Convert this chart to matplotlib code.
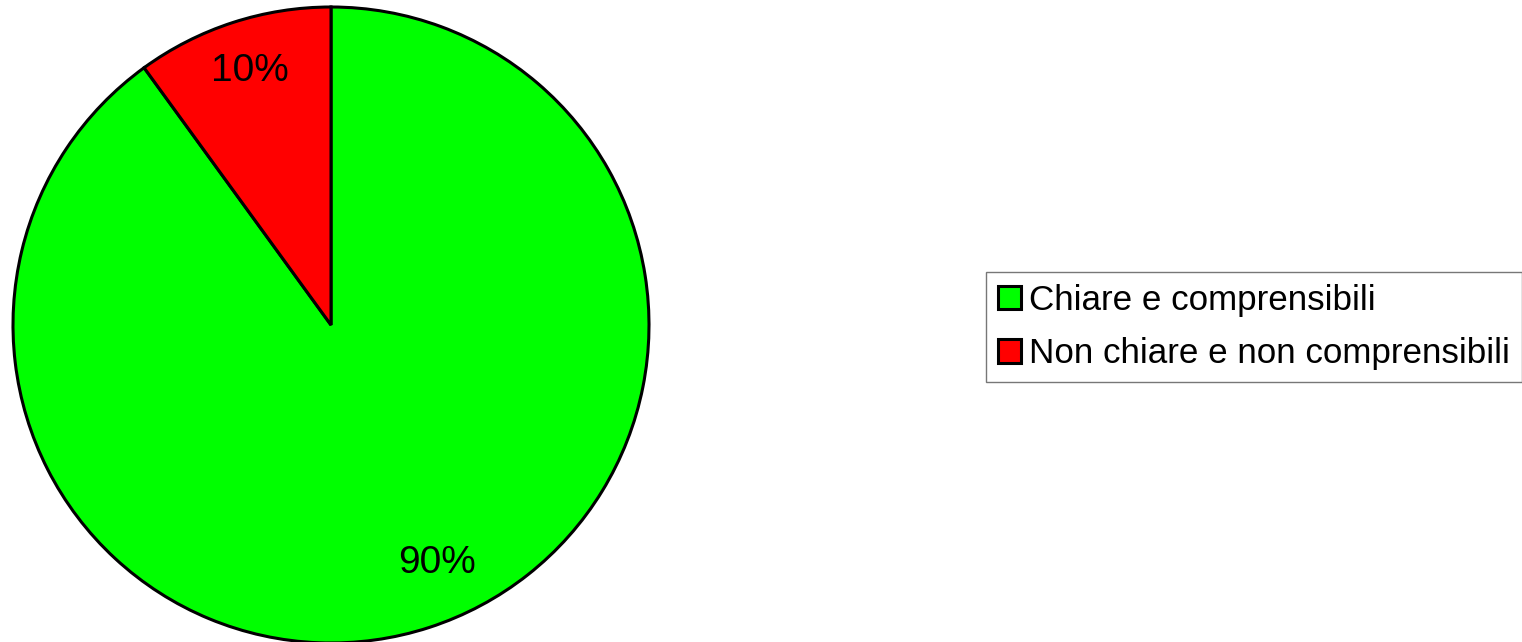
import matplotlib.pyplot as plt
from matplotlib.patches import Patch

plt.rcParams['font.family'] = ['Liberation Sans', 'DejaVu Sans']

labels = ["Chiare e comprensibili", "Non chiare e non comprensibili"]
values = [90, 10]
colors = ["#00ff00", "#ff0000"]

fig = plt.figure(figsize=(15.22, 6.42), dpi=100)
ax = fig.add_axes([(331 - 318) / 1522, (642 - 325 - 318) / 642, 636 / 1522, 636 / 642])

wedges, texts, autotexts = ax.pie(values, colors=colors, startangle=90, counterclock=False,
                                  autopct='%1.0f%%', pctdistance=0.83,
                                  wedgeprops=dict(edgecolor='black', linewidth=2.2),
                                  textprops=dict(fontsize=28, color='black'))
# label placement as in the original chart
autotexts[0].set_position((0.333, -0.748))
autotexts[1].set_position((-0.255, 0.798))
ax.set_xlim(-1, 1)
ax.set_ylim(-1, 1)
ax.set_aspect('equal')

handles = [Patch(facecolor=c, edgecolor='black', linewidth=2.2) for c in colors]
leg = fig.legend(handles, labels, loc='center left', bbox_to_anchor=(986 / 1522, 1 - 327 / 642),
                 fontsize=25.2, frameon=True, fancybox=False, handlelength=0.65, handleheight=0.65,
                 handletextpad=0.25, borderpad=0.34, labelspacing=0.58, borderaxespad=0)
leg.get_frame().set_edgecolor('#555555')
leg.get_frame().set_linewidth(1)

fig.savefig("out.png", dpi=100)
